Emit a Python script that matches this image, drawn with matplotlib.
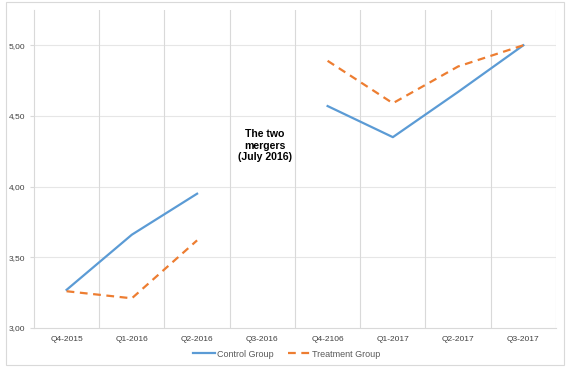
import matplotlib
matplotlib.use("Agg")
import matplotlib.pyplot as plt
import numpy as np
from matplotlib.patches import Rectangle
from matplotlib.ticker import FuncFormatter

plt.rcParams["font.family"] = ["Liberation Sans", "DejaVu Sans"]

quarters = ["Q4-2015", "Q1-2016", "Q2-2016", "Q3-2016",
            "Q4-2106", "Q1-2017", "Q2-2017", "Q3-2017"]
control = [3.27, 3.66, 3.95, np.nan, 4.57, 4.35, 4.67, 5.00]
treatment = [3.26, 3.21, 3.62, np.nan, 4.89, 4.59, 4.85, 5.00]

BLUE = "#5b9bd5"
ORANGE = "#ed7d31"
GRID_V = "#d9d9d9"
GRID_H = "#e6e6e6"
TEXT = "#595959"

fig = plt.figure(figsize=(5.7, 3.72), dpi=100)
ax = fig.add_axes([0.0596, 0.1183, 0.9158, 0.855])

x = np.arange(len(quarters))
ax.plot(x, control, color=BLUE, lw=1.6, label="Control Group", zorder=3)
ax.plot(x, treatment, color=ORANGE, lw=1.6, ls=(0, (3.5, 2.5)),
        label="Treatment Group", zorder=3)

ax.set_xlim(-0.5, len(quarters) - 0.5)
ax.set_ylim(3.0, 5.25)
ax.set_yticks([3.0, 3.5, 4.0, 4.5, 5.0])
ax.yaxis.set_major_formatter(FuncFormatter(lambda v, p: f"{v:.2f}".replace(".", ",")))
ax.set_xticks(x)
ax.set_xticklabels(quarters)
ax.tick_params(axis="x", length=0, pad=6, labelsize=6, labelcolor="#404040")
ax.tick_params(axis="y", length=3, width=0.8, color=GRID_V, pad=3,
               labelsize=6, labelcolor="#404040")

# horizontal gridlines
for v in [3.5, 4.0, 4.5, 5.0]:
    ax.axhline(v, color=GRID_H, lw=0.8, zorder=1)
# vertical gridlines at category boundaries
for b in np.arange(0.5, len(quarters) - 0.5, 1.0):
    ax.axvline(b, color=GRID_V, lw=0.8, zorder=1)
ax.axvline(len(quarters) - 0.5, color=GRID_V, lw=0.8, zorder=1)

for side in ["top", "right"]:
    ax.spines[side].set_visible(False)
for side in ["left", "bottom"]:
    ax.spines[side].set_color(GRID_V)
    ax.spines[side].set_linewidth(0.8)

ax.text(3.04, 4.29, "The two\nmergers\n(July 2016)", ha="center", va="center",
        fontsize=7.6, fontweight="bold", color="#000000", linespacing=1.2)

leg = fig.legend(loc="center", bbox_to_anchor=(0.503, 0.048), ncol=2, frameon=False,
                 fontsize=6.5, handlelength=2.4, columnspacing=1.6, handletextpad=0.25)
for t in leg.get_texts():
    t.set_color(TEXT)

fig.patches.append(Rectangle((6 / 570, 1 - 365 / 372), 558 / 570, 363 / 372,
                             transform=fig.transFigure, fill=False,
                             edgecolor="#d9d9d9", lw=0.8))

fig.savefig("out.png", dpi=100)
